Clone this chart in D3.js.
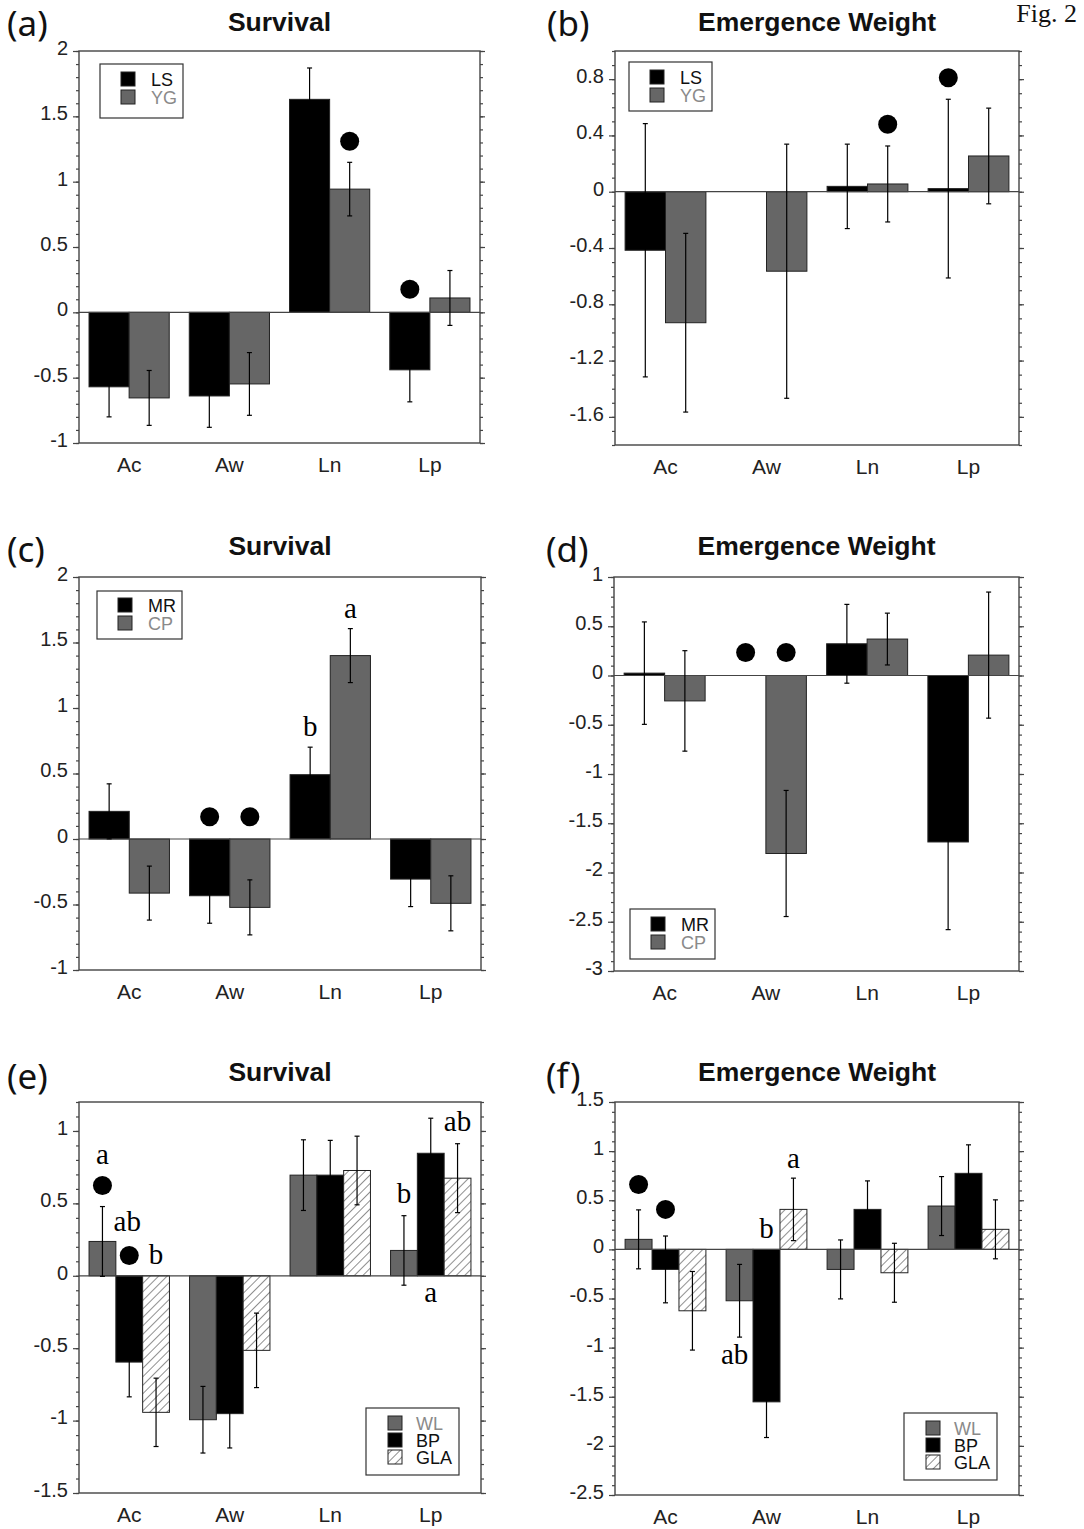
<!DOCTYPE html>
<html>
<head>
<meta charset="utf-8">
<script src="https://cdn.jsdelivr.net/npm/d3@7"></script>
<style>
  body { margin: 0; background: #fff; }
  svg { display: block; }
</style>
</head>
<body>
<svg id="fig" width="1084" height="1529"></svg>
<script>
/**
 * Data
 */
var categories = ["Ac", "Aw", "Ln", "Lp"];

// (a) Survival, LS vs YG
var survLS    = [-0.57, -0.64, 1.63, -0.44];
var survLSse  = [0.23, 0.24, 0.24, 0.245];
var survYG    = [-0.655, -0.548, 0.943, 0.11];
var survYGse  = [0.21, 0.24, 0.205, 0.21];

// (b) Emergence weight, LS vs YG (no LS value for Aw)
var wtLS      = [-0.416, null, 0.038, 0.022];
var wtLSse    = [0.90, null, 0.30, 0.635];
var wtYG      = [-0.931, -0.565, 0.055, 0.254];
var wtYGse    = [0.635, 0.903, 0.27, 0.34];

// (c) Survival, MR vs CP
var survMR    = [0.211, -0.433, 0.491, -0.306];
var survMRse  = [0.21, 0.21, 0.21, 0.21];
var survCP    = [-0.413, -0.522, 1.40, -0.491];
var survCPse  = [0.206, 0.21, 0.206, 0.21];

// (d) Emergence weight, MR vs CP (no MR value for Aw)
var wtMR      = [0.024, null, 0.322, -1.69];
var wtMRse    = [0.52, null, 0.40, 0.89];
var wtCP      = [-0.258, -1.807, 0.37, 0.207];
var wtCPse    = [0.51, 0.64, 0.263, 0.64];

// (e) Survival, WL / BP / GLA
var survWL    = [0.237, -0.994, 0.695, 0.175];
var survWLse  = [0.241, 0.23, 0.244, 0.24];
var survBP    = [-0.596, -0.952, 0.695, 0.846];
var survBPse  = [0.24, 0.237, 0.24, 0.242];
var survGLA   = [-0.943, -0.515, 0.727, 0.674];
var survGLAse = [0.236, 0.257, 0.237, 0.238];

// (f) Emergence weight, WL / BP / GLA
var wtWL      = [0.102, -0.523, -0.204, 0.441];
var wtWLse    = [0.30, 0.37, 0.30, 0.30];
var wtBP      = [-0.204, -1.552, 0.407, 0.774];
var wtBPse    = [0.34, 0.363, 0.29, 0.29];
var wtGLA     = [-0.625, 0.407, -0.238, 0.204];
var wtGLAse   = [0.40, 0.318, 0.30, 0.30];

// significance dots: [category, series index, y value]
var dotsA = [["Ln", 1, 1.31], ["Lp", 0, 0.176]];
var dotsB = [["Ln", 1, 0.48], ["Lp", 0, 0.81]];
var dotsC = [["Aw", 0, 0.17], ["Aw", 1, 0.17]];
var dotsD = [["Aw", 0, 0.234], ["Aw", 1, 0.234]];
var dotsE = [["Ac", 0, 0.623], ["Ac", 1, 0.14]];
var dotsF = [["Ac", 0, 0.66], ["Ac", 1, 0.407]];

// letter groupings: [category, series index, y value (baseline), text]
var lettersC = [["Ln", 0, 0.79, "b"], ["Ln", 1, 1.69, "a"]];
var lettersE = [["Ac", 0, 0.77, "a"], ["Ac", 1, 0.306, "ab"], ["Ac", 2, 0.08, "b"],
                ["Lp", 0, 0.506, "b"], ["Lp", 1, -0.18, "a"], ["Lp", 2, 1.0, "ab"]];
var lettersF = [["Aw", 0, -1.17, "ab"], ["Aw", 1, 0.112, "b"], ["Aw", 2, 0.825, "a"]];

/**
 * Styles
 */
var GRAY = "#666666";
var BLACK = "#000000";
var SANS = "'Liberation Sans', Arial, sans-serif";
var SERIF = "'Liberation Serif', 'Times New Roman', serif";

var svg = d3.select("#fig");
svg.append("rect").attr("width", 1084).attr("height", 1529).attr("fill", "#fff");

// hatch for GLA
var defs = svg.append("defs");
var pat = defs.append("pattern")
    .attr("id", "hatch")
    .attr("patternUnits", "userSpaceOnUse")
    .attr("width", 6).attr("height", 6)
    .attr("patternTransform", "rotate(45)");
pat.append("rect").attr("width", 6).attr("height", 6).attr("fill", "#fff");
pat.append("line").attr("x1", 0).attr("y1", 0).attr("x2", 0).attr("y2", 6)
    .attr("stroke", "#333").attr("stroke-width", 1.1);

function fmt(d) {
    return String(Math.round(d * 10) / 10);
}

function drawPanel(p) {
    var x = d3.scaleBand().domain(categories).range([p.x0, p.x1])
        .paddingInner(0.2).paddingOuter(0.1);
    var xs = d3.scaleBand().domain(d3.range(p.series.length)).range([0, x.bandwidth()]);
    var y = d3.scaleLinear().domain(p.domain).range([p.y1, p.y0]);

    var g = svg.append("g");

    // panel letter & title
    svg.append("text").attr("x", p.lx).attr("y", p.ly)
        .attr("font-family", "'Noto Sans', 'Open Sans', sans-serif")
        .attr("font-size", 35).attr("fill", "#111").text(p.label);
    svg.append("text").attr("x", (p.x0 + p.x1) / 2).attr("y", p.ty)
        .attr("text-anchor", "middle").attr("font-family", SANS)
        .attr("font-weight", "bold").attr("font-size", 26.5).attr("fill", "#111")
        .text(p.title);

    // bars
    p.series.forEach(function(s, si) {
        var rows = categories.map(function(c, i) {
            return {c: c, v: s.values[i], se: s.se[i]};
        }).filter(function(d) { return d.v !== null; });

        g.selectAll(null).data(rows).enter().append("rect")
            .attr("x", function(d) { return x(d.c) + xs(si); })
            .attr("width", xs.bandwidth())
            .attr("y", function(d) { return y(Math.max(0, d.v)); })
            .attr("height", function(d) { return Math.abs(y(d.v) - y(0)); })
            .attr("fill", s.fill)
            .attr("stroke", "#222").attr("stroke-width", 1);
    });

    // zero line
    g.append("line").attr("x1", p.x0).attr("x2", p.x1)
        .attr("y1", y(0)).attr("y2", y(0))
        .attr("stroke", "#444").attr("stroke-width", 1.2);

    // error bars
    p.series.forEach(function(s, si) {
        var rows = categories.map(function(c, i) {
            return {c: c, v: s.values[i], se: s.se[i]};
        }).filter(function(d) { return d.v !== null; });
        var cx = function(d) { return x(d.c) + xs(si) + xs.bandwidth() / 2; };
        var eb = g.selectAll(null).data(rows).enter().append("g")
            .attr("stroke", "#000").attr("stroke-width", 1.2);
        eb.append("line")
            .attr("x1", cx).attr("x2", cx)
            .attr("y1", function(d) { return y(d.v + d.se); })
            .attr("y2", function(d) { return y(d.v - d.se); });
        eb.append("line")
            .attr("x1", function(d) { return cx(d) - 2.5; })
            .attr("x2", function(d) { return cx(d) + 2.5; })
            .attr("y1", function(d) { return y(d.v + d.se); })
            .attr("y2", function(d) { return y(d.v + d.se); });
        eb.append("line")
            .attr("x1", function(d) { return cx(d) - 2.5; })
            .attr("x2", function(d) { return cx(d) + 2.5; })
            .attr("y1", function(d) { return y(d.v - d.se); })
            .attr("y2", function(d) { return y(d.v - d.se); });
    });

    // dots
    g.selectAll(null).data(p.dots).enter().append("circle")
        .attr("cx", function(d) { return x(d[0]) + xs(d[1]) + xs.bandwidth() / 2; })
        .attr("cy", function(d) { return y(d[2]); })
        .attr("r", 9.5).attr("fill", "#000");

    // letters
    var shift = p.letterShift || {};
    g.selectAll(null).data(p.letters || []).enter().append("text")
        .attr("x", function(d) {
            return x(d[0]) + xs(d[1]) + xs.bandwidth() / 2 + (shift[d[0] + d[1]] || 0);
        })
        .attr("y", function(d) { return y(d[2]); })
        .attr("text-anchor", "middle")
        .attr("font-family", SERIF).attr("font-size", 29).attr("fill", "#000")
        .text(function(d) { return d[3]; });

    // axes
    var major = d3.range(p.tickMin, p.domain[1] + 1e-9, p.tickStep);
    var minor = d3.range(Math.ceil(p.domain[0] * 10), Math.floor(p.domain[1] * 10) + 1)
        .map(function(k) { return k / 10; });

    var left = svg.append("g").attr("transform", "translate(" + p.x0 + ",0)");
    left.call(d3.axisLeft(y).tickValues(minor).tickSize(3).tickFormat(""));
    var leftMaj = svg.append("g").attr("transform", "translate(" + p.x0 + ",0)");
    leftMaj.call(d3.axisLeft(y).tickValues(major).tickSize(6).tickPadding(5).tickFormat(fmt));
    leftMaj.selectAll("text").attr("dy", "0.17em")
        .attr("font-family", SANS).attr("font-size", 20).attr("fill", "#222");

    var right = svg.append("g").attr("transform", "translate(" + p.x1 + ",0)");
    right.call(d3.axisRight(y).tickValues(minor).tickSize(3).tickFormat(""));
    var rightMaj = svg.append("g").attr("transform", "translate(" + p.x1 + ",0)");
    rightMaj.call(d3.axisRight(y).tickValues(major).tickSize(5).tickFormat(""));

    [left, leftMaj, right, rightMaj].forEach(function(a) {
        a.select(".domain").remove();
        a.selectAll("line").attr("stroke", "#444").attr("stroke-width", 1.2);
    });

    var bottom = svg.append("g").attr("transform", "translate(0," + p.y1 + ")");
    bottom.call(d3.axisBottom(x).tickSize(0).tickPadding(14));
    bottom.select(".domain").remove();
    bottom.selectAll("text").attr("font-family", SANS).attr("font-size", 21).attr("fill", "#222");

    // frame
    svg.append("rect").attr("x", p.x0).attr("y", p.y0)
        .attr("width", p.x1 - p.x0).attr("height", p.y1 - p.y0)
        .attr("fill", "none").attr("stroke", "#444").attr("stroke-width", 1.4);

    // legend
    var L = p.legend;
    var lg = svg.append("g");
    lg.append("rect").attr("x", L.x).attr("y", L.y).attr("width", L.w).attr("height", L.h)
        .attr("fill", "#fff").attr("stroke", "#333").attr("stroke-width", 1.2);
    p.series.forEach(function(s, si) {
        var top = L.y + L.first + si * L.step;
        lg.append("rect").attr("x", L.x + L.sx).attr("y", top)
            .attr("width", 14).attr("height", 14)
            .attr("fill", s.fill).attr("stroke", "#222").attr("stroke-width", 1);
        lg.append("text").attr("x", L.x + L.tx).attr("y", top + 14)
            .attr("font-family", SANS).attr("font-size", 18)
            .attr("fill", s.fill === GRAY ? "#8a8a8a" : "#111")
            .text(s.name);
    });
}

var pairLegend = {w: 83, h: 54, first: 8, step: 18, sx: 21, tx: 51};
var trioLegend = {w: 93, h: 67, first: 8, step: 17, sx: 22, tx: 50};

drawPanel({
    label: "(a)", lx: 7, ly: 36, title: "Survival", ty: 31,
    x0: 79, x1: 480, y0: 51, y1: 443, domain: [-1, 2], tickMin: -1, tickStep: 0.5,
    series: [{name: "LS", values: survLS, se: survLSse, fill: BLACK},
             {name: "YG", values: survYG, se: survYGse, fill: GRAY}],
    dots: dotsA,
    legend: Object.assign({x: 100, y: 64}, pairLegend)
});

drawPanel({
    label: "(b)", lx: 547, ly: 36, title: "Emergence Weight", ty: 31,
    x0: 615, x1: 1019, y0: 51, y1: 445, domain: [-1.8, 1.0], tickMin: -1.6, tickStep: 0.4,
    series: [{name: "LS", values: wtLS, se: wtLSse, fill: BLACK},
             {name: "YG", values: wtYG, se: wtYGse, fill: GRAY}],
    dots: dotsB,
    legend: Object.assign({x: 629, y: 62}, pairLegend, {h: 49, first: 8, step: 18})
});

drawPanel({
    label: "(c)", lx: 7, ly: 562, title: "Survival", ty: 555,
    x0: 79, x1: 481, y0: 577, y1: 970, domain: [-1, 2], tickMin: -1, tickStep: 0.5,
    series: [{name: "MR", values: survMR, se: survMRse, fill: BLACK},
             {name: "CP", values: survCP, se: survCPse, fill: GRAY}],
    dots: dotsC, letters: lettersC,
    legend: Object.assign({x: 97, y: 591}, pairLegend, {w: 85, h: 48, first: 7})
});

drawPanel({
    label: "(d)", lx: 546, ly: 562, title: "Emergence Weight", ty: 555,
    x0: 614, x1: 1019, y0: 577, y1: 971, domain: [-3, 1], tickMin: -3, tickStep: 0.5,
    series: [{name: "MR", values: wtMR, se: wtMRse, fill: BLACK},
             {name: "CP", values: wtCP, se: wtCPse, fill: GRAY}],
    dots: dotsD,
    legend: Object.assign({x: 630, y: 909}, pairLegend, {w: 85, h: 50, first: 8})
});

drawPanel({
    label: "(e)", lx: 7, ly: 1089, title: "Survival", ty: 1081,
    x0: 79, x1: 481, y0: 1102, y1: 1493, domain: [-1.5, 1.2], tickMin: -1.5, tickStep: 0.5,
    series: [{name: "WL", values: survWL, se: survWLse, fill: GRAY},
             {name: "BP", values: survBP, se: survBPse, fill: BLACK},
             {name: "GLA", values: survGLA, se: survGLAse, fill: "url(#hatch)"}],
    dots: dotsE, letters: lettersE, letterShift: {"Ac1": -2},
    legend: Object.assign({x: 366, y: 1408}, trioLegend)
});

drawPanel({
    label: "(f)", lx: 546, ly: 1088, title: "Emergence Weight", ty: 1081,
    x0: 615, x1: 1019, y0: 1102, y1: 1495, domain: [-2.5, 1.5], tickMin: -2.5, tickStep: 0.5,
    series: [{name: "WL", values: wtWL, se: wtWLse, fill: GRAY},
             {name: "BP", values: wtBP, se: wtBPse, fill: BLACK},
             {name: "GLA", values: wtGLA, se: wtGLAse, fill: "url(#hatch)"}],
    dots: dotsF, letters: lettersF, letterShift: {"Aw0": -5},
    legend: Object.assign({x: 904, y: 1413}, trioLegend)
});

svg.append("text").attr("x", 1077).attr("y", 22).attr("text-anchor", "end")
    .attr("font-family", SERIF).attr("font-size", 26).attr("fill", "#111")
    .text("Fig. 2");
</script>
</body>
</html>
